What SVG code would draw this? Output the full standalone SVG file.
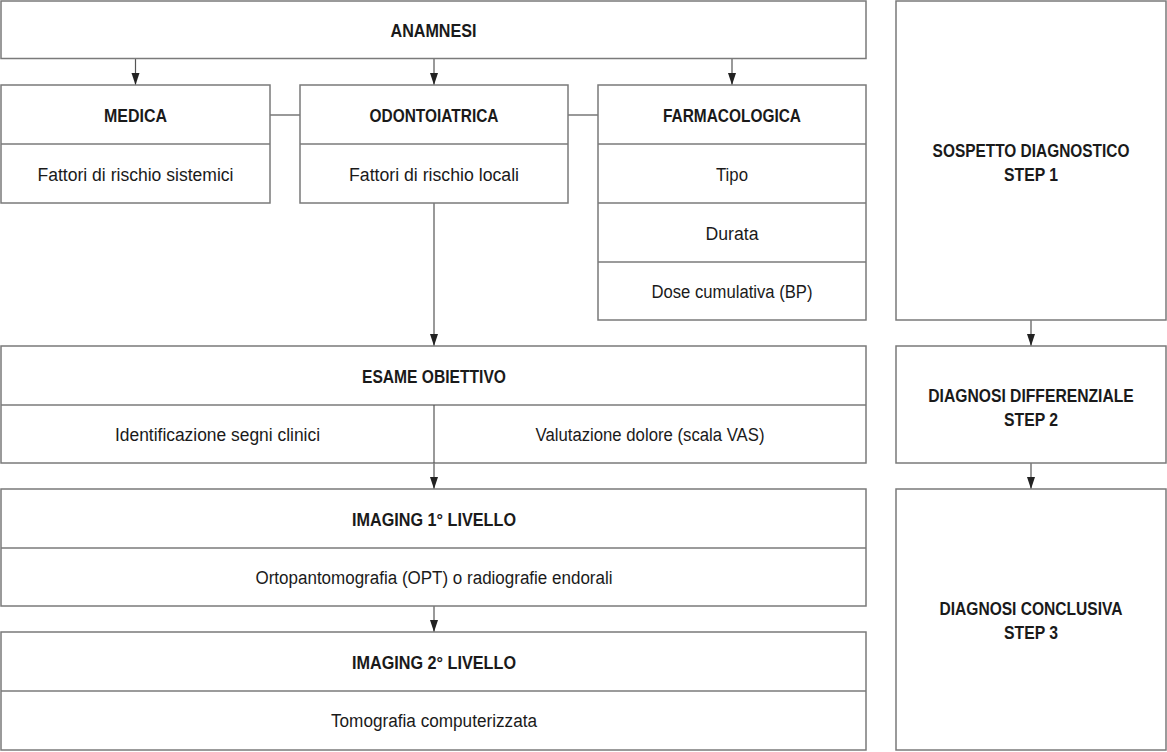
<svg xmlns="http://www.w3.org/2000/svg" width="1167" height="752" viewBox="0 0 1167 752">
<style>
.box{fill:#fff;stroke:#7a7a7a;stroke-width:1.5}
.div{stroke:#7a7a7a;stroke-width:1.5}
.con{stroke:#555;stroke-width:1.2;fill:none}
.t{font-family:"Liberation Sans",Arial,sans-serif;font-weight:bold;font-size:19px;fill:#1a1a1a;text-anchor:middle}
.b{font-family:"Liberation Sans",Arial,sans-serif;font-size:18px;fill:#1a1a1a;text-anchor:middle}
</style>
<defs>
<marker id="arrd" markerUnits="userSpaceOnUse" markerWidth="10" markerHeight="13" refX="5" refY="12" orient="0" viewBox="0 0 10 13">
<path d="M1,0 L9,0 L5,12 Z" fill="#222"/>
</marker>
</defs>
<rect width="1167" height="752" fill="#fff"/>

<g id="connectors">
<line class="con" x1="135.5" y1="58.5" x2="135.5" y2="85" marker-end="url(#arrd)"/>
<line class="con" x1="434" y1="58.5" x2="434" y2="85" marker-end="url(#arrd)"/>
<line class="con" x1="732" y1="58.5" x2="732" y2="85" marker-end="url(#arrd)"/>
<line class="con" x1="270" y1="115" x2="300" y2="115"/>
<line class="con" x1="568" y1="115" x2="598" y2="115"/>
<line class="con" x1="434" y1="203" x2="434" y2="346" marker-end="url(#arrd)"/>
<line class="con" x1="434" y1="405" x2="434" y2="489" marker-end="url(#arrd)"/>
<line class="con" x1="434" y1="606" x2="434" y2="632" marker-end="url(#arrd)"/>
<line class="con" x1="1031" y1="320" x2="1031" y2="346" marker-end="url(#arrd)"/>
<line class="con" x1="1031" y1="463" x2="1031" y2="489" marker-end="url(#arrd)"/>
</g>

<g id="anamnesi">
<rect class="box" x="1" y="1" width="865" height="57.5"/>
<text class="t" x="433.5" y="37" textLength="86" lengthAdjust="spacingAndGlyphs">ANAMNESI</text>
</g>

<g id="medica">
<rect class="box" x="1" y="85" width="269" height="118"/>
<line class="div" x1="1" y1="144" x2="270" y2="144"/>
<text class="t" x="135.5" y="122" textLength="63" lengthAdjust="spacingAndGlyphs">MEDICA</text>
<text class="b" x="135.5" y="181" textLength="196" lengthAdjust="spacingAndGlyphs">Fattori di rischio sistemici</text>
</g>

<g id="odontoiatrica">
<rect class="box" x="300" y="85" width="268" height="118"/>
<line class="div" x1="300" y1="144" x2="568" y2="144"/>
<text class="t" x="434" y="122" textLength="129" lengthAdjust="spacingAndGlyphs">ODONTOIATRICA</text>
<text class="b" x="434" y="181" textLength="170" lengthAdjust="spacingAndGlyphs">Fattori di rischio locali</text>
</g>

<g id="farmacologica">
<rect class="box" x="598" y="85" width="268" height="235"/>
<line class="div" x1="598" y1="144" x2="866" y2="144"/>
<line class="div" x1="598" y1="203" x2="866" y2="203"/>
<line class="div" x1="598" y1="262" x2="866" y2="262"/>
<text class="t" x="732" y="122" textLength="138" lengthAdjust="spacingAndGlyphs">FARMACOLOGICA</text>
<text class="b" x="732" y="181" textLength="32" lengthAdjust="spacingAndGlyphs">Tipo</text>
<text class="b" x="732" y="240" textLength="53" lengthAdjust="spacingAndGlyphs">Durata</text>
<text class="b" x="732" y="298" textLength="161" lengthAdjust="spacingAndGlyphs">Dose cumulativa (BP)</text>
</g>

<g id="step1">
<rect class="box" x="896" y="1" width="270" height="319"/>
<text class="t" transform="translate(1031,157) scale(0.8,1)" x="0" y="0" textLength="246" lengthAdjust="spacingAndGlyphs">SOSPETTO DIAGNOSTICO</text>
<text class="t" x="1031" y="181" textLength="54" lengthAdjust="spacingAndGlyphs">STEP 1</text>
</g>

<g id="step2">
<rect class="box" x="896" y="346" width="270" height="117"/>
<text class="t" transform="translate(1031,402) scale(0.8,1)" x="0" y="0" textLength="257" lengthAdjust="spacingAndGlyphs">DIAGNOSI DIFFERENZIALE</text>
<text class="t" x="1031" y="426" textLength="54" lengthAdjust="spacingAndGlyphs">STEP 2</text>
</g>

<g id="step3">
<rect class="box" x="896" y="489" width="270" height="261"/>
<text class="t" x="1031" y="615" textLength="183" lengthAdjust="spacingAndGlyphs">DIAGNOSI CONCLUSIVA</text>
<text class="t" x="1031" y="639" textLength="54" lengthAdjust="spacingAndGlyphs">STEP 3</text>
</g>

<g id="esame">
<rect class="box" x="1" y="346" width="865" height="117"/>
<line class="div" x1="1" y1="405" x2="866" y2="405"/>
<line class="con" x1="434" y1="405" x2="434" y2="463"/>
<text class="t" x="434" y="383" textLength="144" lengthAdjust="spacingAndGlyphs">ESAME OBIETTIVO</text>
<text class="b" x="217.5" y="441" textLength="205" lengthAdjust="spacingAndGlyphs">Identificazione segni clinici</text>
<text class="b" x="650" y="441" textLength="229" lengthAdjust="spacingAndGlyphs">Valutazione dolore (scala VAS)</text>
</g>

<g id="imaging1">
<rect class="box" x="1" y="489" width="865" height="117"/>
<line class="div" x1="1" y1="548" x2="866" y2="548"/>
<text class="t" x="434" y="526" textLength="164" lengthAdjust="spacingAndGlyphs">IMAGING 1° LIVELLO</text>
<text class="b" x="434" y="584" textLength="357" lengthAdjust="spacingAndGlyphs">Ortopantomografia (OPT) o radiografie endorali</text>
</g>

<g id="imaging2">
<rect class="box" x="1" y="632" width="865" height="118"/>
<line class="div" x1="1" y1="691" x2="866" y2="691"/>
<text class="t" x="434" y="669" textLength="164" lengthAdjust="spacingAndGlyphs">IMAGING 2° LIVELLO</text>
<text class="b" x="434" y="727" textLength="206" lengthAdjust="spacingAndGlyphs">Tomografia computerizzata</text>
</g>
</svg>
